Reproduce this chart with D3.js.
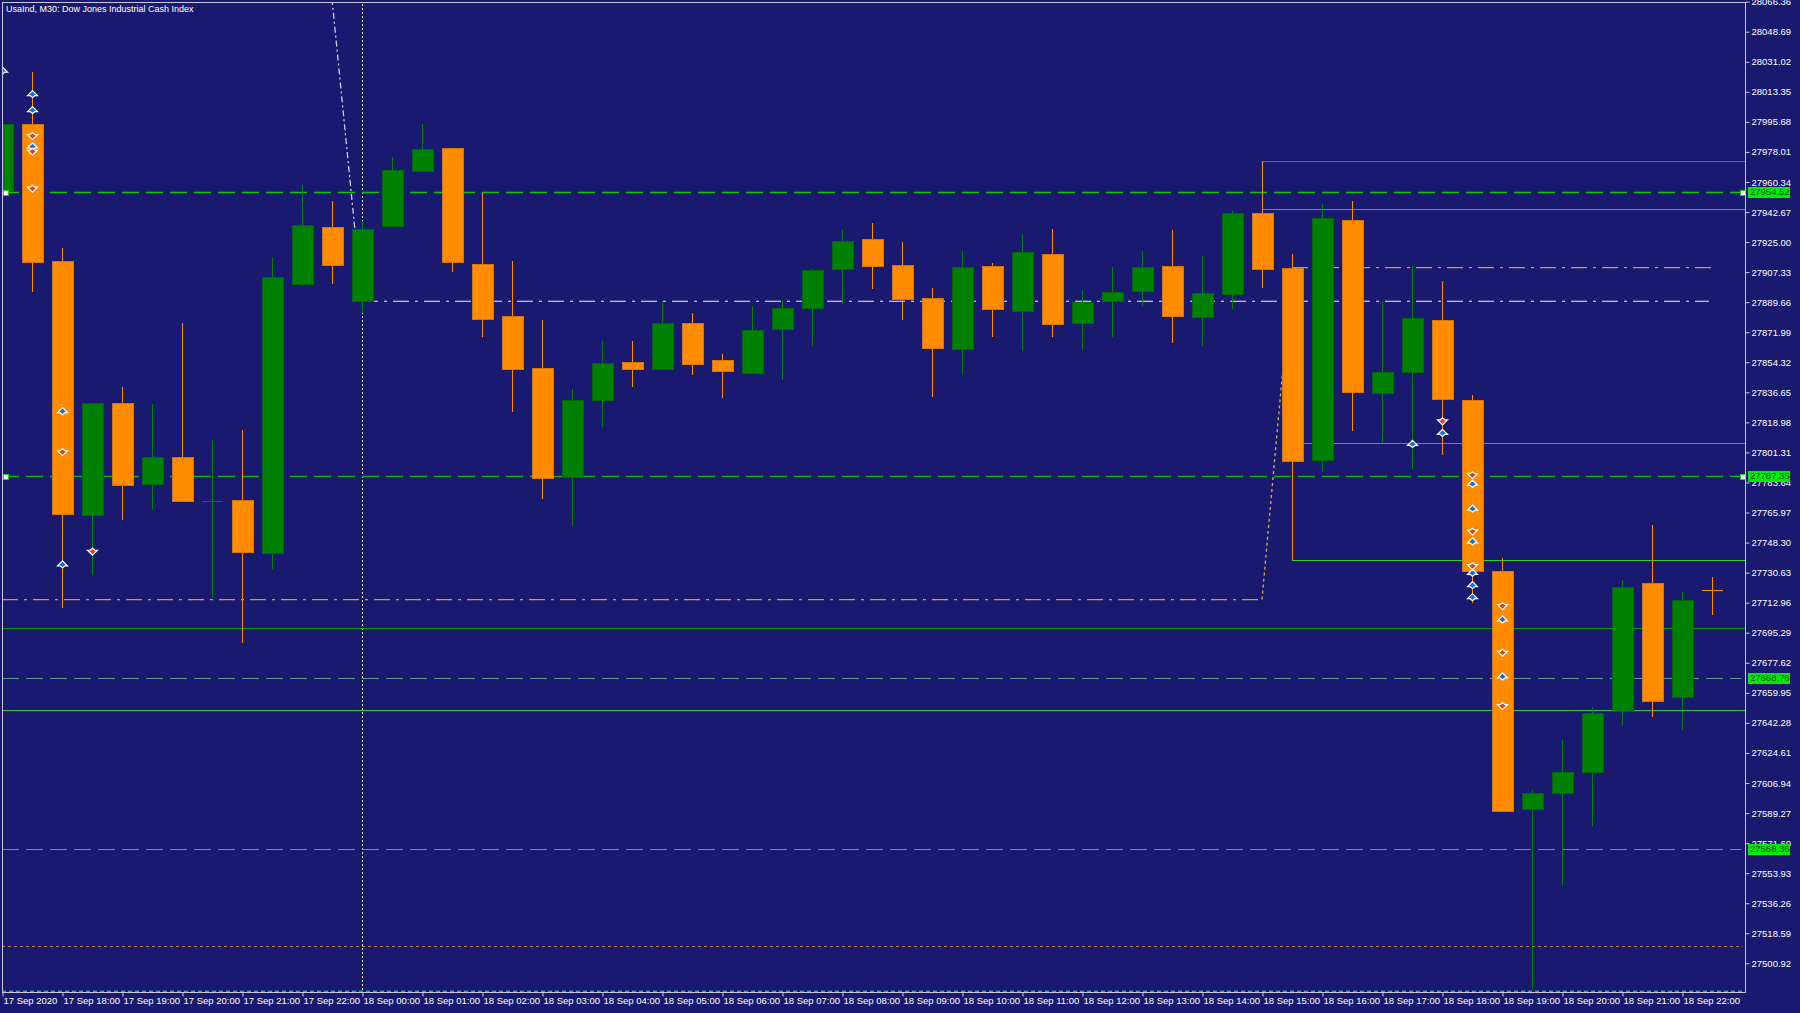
<!DOCTYPE html>
<html><head><meta charset="utf-8">
<script src="https://cdn.jsdelivr.net/npm/d3@7"></script>
<style>html,body{margin:0;padding:0;background:#191970;overflow:hidden}</style>
</head><body><svg id="c" width="1800" height="1013"></svg>
<script>
// ---- data (M30 candles, 17 Sep 17:00 .. 18 Sep 22:30) ----
const openP  = [27954.9,27994.5,27913.6,27765.0,27830.6,27782.5,27798.5,27772.5,27773.6,27741.9,
                27900.8,27933.9,27890.4,27934.3,27966.7,27980.2,27912.2,27881.5,27851.2,27786.8,
                27832.0,27854.5,27850.5,27877.6,27855.5,27848.0,27874.0,27886.5,27909.0,27926.8,
                27911.4,27892.2,27861.9,27910.7,27884.7,27917.9,27877.6,27890.8,27896.1,27910.7,
                27881.2,27894.4,27942.1,27910.0,27796.7,27937.8,27836.6,27848.8,27879.0,27832.3,
                27731.5,27591.5,27601.2,27613.6,27649.2,27724.4,27657.1,27720.5];
const highP  = [27996.0,28025.1,27921.8,27830.6,27839.8,27829.9,27877.3,27808.8,27814.6,27916.4,
                27958.5,27948.9,27937.1,27974.9,27994.5,27980.2,27953.8,27913.6,27879.0,27838.4,
                27866.6,27866.9,27890.4,27883.3,27859.4,27887.6,27891.1,27909.3,27932.1,27936.0,
                27925.0,27897.9,27920.0,27912.9,27930.0,27932.5,27896.8,27910.4,27920.0,27932.1,
                27916.8,27943.2,27972.7,27917.9,27947.1,27948.9,27890.4,27910.7,27902.2,27835.2,
                27739.4,27603.0,27632.2,27651.7,27726.2,27758.6,27719.4,27728.0];
const lowP   = [27950.0,27895.4,27709.8,27729.4,27761.5,27767.9,27772.5,27716.2,27689.5,27733.0,
                27899.0,27900.4,27883.3,27934.3,27966.7,27907.2,27869.1,27824.9,27773.9,27757.9,
                27816.0,27839.8,27850.5,27847.0,27833.4,27848.0,27843.8,27863.7,27888.3,27897.6,
                27879.0,27833.8,27847.0,27869.4,27860.9,27869.1,27861.9,27869.4,27887.6,27865.5,
                27864.1,27885.8,27897.9,27738.0,27789.6,27813.8,27806.7,27791.7,27799.6,27713.0,
                27590.1,27486.1,27546.7,27581.6,27640.3,27646.0,27638.2,27705.5];
const closeP = [27994.5,27913.2,27765.0,27830.6,27782.5,27798.5,27772.5,27772.6,27742.9,27904.3,
                27935.3,27911.4,27932.8,27967.4,27979.9,27913.2,27880.1,27850.2,27786.4,27832.3,
                27853.7,27850.2,27877.6,27853.7,27849.1,27873.3,27886.5,27908.6,27925.7,27910.7,
                27891.5,27862.6,27910.4,27885.4,27919.3,27876.5,27890.0,27895.8,27910.4,27881.2,
                27895.1,27942.1,27909.0,27796.4,27939.2,27836.6,27848.8,27880.5,27832.3,27731.9,
                27590.1,27601.2,27613.3,27648.2,27722.3,27655.3,27714.4,27720.4];

const timeTickIndex  = [0,2,4,6,8,10,12,14,16,18,20,22,24,26,28,30,32,34,36,38,40,42,44,46,48,50,52,54,56];
const timeTickLabels = ["17 Sep 2020","17 Sep 18:00","17 Sep 19:00","17 Sep 20:00","17 Sep 21:00","17 Sep 22:00",
  "18 Sep 00:00","18 Sep 01:00","18 Sep 02:00","18 Sep 03:00","18 Sep 04:00","18 Sep 05:00","18 Sep 06:00",
  "18 Sep 07:00","18 Sep 08:00","18 Sep 09:00","18 Sep 10:00","18 Sep 11:00","18 Sep 12:00","18 Sep 13:00",
  "18 Sep 14:00","18 Sep 15:00","18 Sep 16:00","18 Sep 17:00","18 Sep 18:00","18 Sep 19:00","18 Sep 20:00",
  "18 Sep 21:00","18 Sep 22:00"];

const priceTicks = [28066.36,28048.69,28031.02,28013.35,27995.68,27978.01,27960.34,27942.67,27925.00,27907.33,
  27889.66,27871.99,27854.32,27836.65,27818.98,27801.31,27783.64,27765.97,27748.30,27730.63,27712.96,27695.29,
  27677.62,27659.95,27642.28,27624.61,27606.94,27589.27,27571.60,27553.93,27536.26,27518.59,27500.92];

const labelLevels      = [27954.52,27787.35,27668.76,27568.36];
const labelLevelColors = ["#12c012","#12b012","#5c9a86","#5c9a86"];
const solidLevels      = [27697.8,27649.9];
const solidLevelColors = ["#00a000","#32cd32"];
const boxLineStart     = [42,42,43,43];
const boxLinePrice     = [27972.6,27944.6,27806.7,27738.0];
const boxLineColors    = ["#00b000","#4a9a7a","#4a9a7a","#32cd32"];
const goldIdx   = [0,42,43,57];
const goldPrice = [27714.8,27714.8,27910.0,27910.0];
const whiteIdx   = [11,12,56.9];
const whitePrice = [28068.0,27890.2,27890.2];
const separatorIdx = 12;
const orangeDotted = 27511.0;
const cyanDotted   = 27484.6;

const markerIdx   = [0,1,1,1,1,1,1,2,2,2,3,47,48,48,49,49,49,49,49,49,49,49,49,50,50,50,50,50];
const markerPrice = [28025.8,28012.0,28002.6,27987.3,27981.3,27978.1,27956.4,27825.6,27801.4,27735.5,27742.9,
  27806.3,27819.6,27812.8,27787.9,27782.9,27768.3,27754.7,27749.0,27734.4,27730.5,27723.3,27716.2,
  27710.9,27703.1,27683.5,27669.6,27652.1];
const markerSide  = ["b","b","b","s","b","s","s","b","s","b","s","b","s","b","s","b","b","s","b","s","b","b","b",
  "s","b","s","b","s"];

const title = "UsaInd, M30:  Dow Jones Industrial Cash Index";

// ---- layout ----
const L = 2, R = 1745.5, T = 2, B = 992.5;
const FONT = "'Liberation Sans', Arial, sans-serif";
const svg = d3.select("#c");
svg.append("rect").attr("width",1800).attr("height",1013).attr("fill","#191970");

const x = d3.scaleLinear().domain([0,57]).range([2,1712]);
const y = d3.scaleLinear().domain([27500.92,28048.69]).range([963.3,31.7]);

svg.append("defs").append("clipPath").attr("id","clip")
  .append("rect").attr("x",3).attr("y",3).attr("width",R-3).attr("height",B-3);
const g = svg.append("g").attr("clip-path","url(#clip)");

// separator (vertical dotted white)
g.append("line").attr("x1",x(separatorIdx)+0.5).attr("x2",x(separatorIdx)+0.5).attr("y1",0).attr("y2",B)
  .attr("stroke","#e8e8f0").attr("stroke-dasharray","2,2").attr("stroke-width",1);

// cyan & orange dotted lines
g.append("line").attr("x1",L).attr("x2",R).attr("y1",Math.round(y(cyanDotted))+0.5).attr("y2",Math.round(y(cyanDotted))+0.5)
  .attr("stroke","#2a94d6").attr("stroke-width",2).attr("stroke-dasharray","4,3");
g.append("line").attr("x1",L).attr("x2",R-3).attr("y1",Math.round(y(orangeDotted))+0.5).attr("y2",Math.round(y(orangeDotted))+0.5)
  .attr("stroke","#c0783a").attr("stroke-width",1).attr("stroke-dasharray","3,3");

// solid levels
solidLevels.forEach((p,i)=>{
  const yy = Math.round(y(p))+0.5;
  g.append("line").attr("x1",L).attr("x2",R).attr("y1",yy).attr("y2",yy)
    .attr("stroke",solidLevelColors[i]).attr("stroke-width",1.2);
});
// box lines from candles to right edge
boxLinePrice.forEach((p,i)=>{
  const yy = Math.round(y(p))+0.5;
  g.append("line").attr("x1",x(boxLineStart[i])).attr("x2",R).attr("y1",yy).attr("y2",yy)
    .attr("stroke",boxLineColors[i]).attr("stroke-width",1.1);
});
// labelled dashed levels
labelLevels.forEach((p,i)=>{
  const yy = Math.round(y(p))+0.5;
  g.append("line").attr("x1",L).attr("x2",R-4).attr("y1",yy).attr("y2",yy)
    .attr("stroke",labelLevelColors[i]).attr("stroke-width",i<2?1.3:1).attr("stroke-dasharray","17,7");
});

// gold dash-dot path
const line = d3.line().x(d=>x(d[0])).y(d=>y(d[1]));
const gp = goldIdx.map((v,i)=>[v,goldPrice[i]]);
g.append("path").attr("d",line(gp.slice(0,2))).attr("fill","none").attr("stroke","#d4a020").attr("stroke-width",1.2).attr("stroke-dasharray","16,6,3,6");
g.append("path").attr("d",line(gp.slice(1,3))).attr("fill","none").attr("stroke","#e0b020").attr("stroke-width",1.3).attr("stroke-dasharray","3,3");
g.append("path").attr("d",line(gp.slice(2,4))).attr("fill","none").attr("stroke","#d4a020").attr("stroke-width",1.2).attr("stroke-dasharray","16,6,3,6");
// white dash-dot path
const wp = whiteIdx.map((v,i)=>[v,whitePrice[i]]);
g.append("path").attr("d",line(wp.slice(0,2))).attr("fill","none").attr("stroke","#d0d0e8").attr("stroke-width",1.3).attr("stroke-dasharray","6,3,2,3");
g.append("path").attr("d",line(wp.slice(1,3))).attr("fill","none").attr("stroke","#f0f0f0").attr("stroke-width",1.2).attr("stroke-dasharray","16,6,3,6");

// candles
const idx = d3.range(openP.length);
const cg = g.append("g").attr("shape-rendering","crispEdges");
idx.forEach(i=>{
  const up = closeP[i] >= openP[i];
  const col = up ? "#008000" : "#ff8c00";
  const cx = Math.round(x(i));
  cg.append("line").attr("x1",cx+0.5).attr("x2",cx+0.5).attr("y1",y(highP[i])).attr("y2",y(lowP[i]))
    .attr("stroke",col).attr("stroke-width",1);
  const y1 = y(Math.max(openP[i],closeP[i])), y2 = y(Math.min(openP[i],closeP[i]));
  const h = y2 - y1;
  if (h < 1.5) {
    cg.append("line").attr("x1",cx-10).attr("x2",cx+11).attr("y1",Math.round(y1)+0.5).attr("y2",Math.round(y1)+0.5)
      .attr("stroke",col).attr("stroke-width",1);
  } else {
    cg.append("rect").attr("x",cx-10).attr("y",Math.round(y1)).attr("width",21).attr("height",Math.round(h))
      .attr("fill",col).attr("stroke", up ? "#006a00" : "#d87400").attr("stroke-width",1);
  }
});

// trade markers
markerIdx.forEach((k,i)=>{
  const cx = x(k)+0.5, cy = y(markerPrice[i]);
  const buy = markerSide[i]==="b";
  const d = buy
    ? `M${cx-5},${cy+1.5} L${cx},${cy-3.5} L${cx+5},${cy+1.5} L${cx+2.5},${cy+1.5} L${cx},${cy+3.5} L${cx-2.5},${cy+1.5} Z`
    : `M${cx-5},${cy-1.5} L${cx},${cy+3.5} L${cx+5},${cy-1.5} L${cx+2.5},${cy-1.5} L${cx},${cy-3.5} L${cx-2.5},${cy-1.5} Z`;
  g.append("path").attr("d",d).attr("fill",buy?"#1a6fd0":"#e8401c").attr("stroke","#ffffff").attr("stroke-width",1.2);
});

// end squares of labelled green levels
labelLevels.slice(0,2).forEach(p=>{
  const yy = Math.round(y(p));
  [3,1740].forEach(xx=>{
    svg.append("rect").attr("x",xx).attr("y",yy-2).attr("width",5).attr("height",5)
      .attr("fill","#ffffff").attr("stroke","#20d020").attr("stroke-width",1).attr("shape-rendering","crispEdges");
  });
});

// frame
svg.append("path").attr("d",`M${L+0.5},${B} L${L+0.5},${T+0.5} L${R},${T+0.5} L${R},${B} L${L},${B}`)
  .attr("fill","none").attr("stroke","#c8c8d8").attr("stroke-width",1).attr("shape-rendering","crispEdges");

// right price axis
const ya = svg.append("g").attr("transform",`translate(${R},0)`)
  .call(d3.axisRight(y).tickValues(priceTicks).tickFormat(d=>d.toFixed(2)).tickSize(4).tickPadding(2));
ya.select(".domain").remove();
ya.selectAll("line").attr("stroke","#c8c8d8");
ya.selectAll("text").attr("fill","#ffffff").attr("font-family",FONT).attr("font-size","9.5px");

// price label boxes
labelLevels.forEach(p=>{
  const yy = Math.round(y(p));
  svg.append("rect").attr("x",1748).attr("y",yy-5).attr("width",42).attr("height",11).attr("fill","#00ee00");
  svg.append("text").attr("x",1750).attr("y",yy+0.5).attr("dominant-baseline","middle")
    .attr("font-family",FONT).attr("font-size","9.5px").attr("fill","#0a4a0a").text(p.toFixed(2));
});

// bottom time axis
const xa = svg.append("g").attr("transform",`translate(0,${B})`)
  .call(d3.axisBottom(x).tickValues(timeTickIndex).tickFormat((d,i)=>timeTickLabels[i]).tickSize(4).tickPadding(2));
xa.select(".domain").remove();
xa.selectAll("line").attr("stroke","#c8c8d8").attr("transform","translate(0.5,0)");
xa.selectAll("text").attr("fill","#ffffff").attr("font-family",FONT).attr("font-size","9.5px")
  .attr("text-anchor","start").attr("dx","1").attr("dy","0.55em");

// title
svg.append("text").attr("x",6).attr("y",12).attr("font-family",FONT).attr("font-size","9px")
  .attr("fill","#ffffff").text(title);
</script></body></html>
